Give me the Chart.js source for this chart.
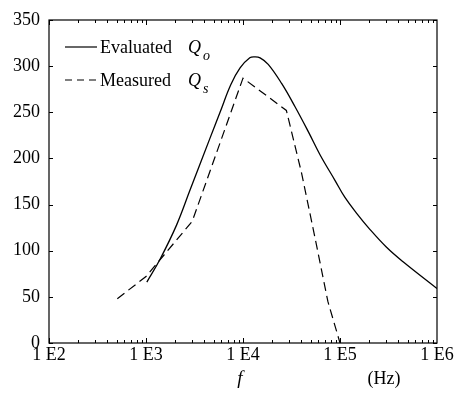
<!DOCTYPE html>
<html>
<head>
<meta charset="utf-8">
<script src="https://cdn.jsdelivr.net/npm/chart.js@4"></script>
<style>
  html, body { margin: 0; padding: 0; background: #fff; }
  #wrap { width: 455px; height: 400px; }
</style>
</head>
<body>
<div id="wrap"><canvas id="chart" width="455" height="400"></canvas></div>
<script>
// evaluated Q_o (solid)
const evalFreq = [1020, 1400, 2070, 2850, 4570, 5800, 7500, 9330, 11750, 13300, 15000, 18200, 25100, 34400, 47100, 62200, 89000, 112000, 150000, 200000, 300000, 447000, 1000000];
const evalQ    = [66,   91,   128,  166,  222,  250,  280,  298,  309,   310,   309,   302,   281,   256,   229,   204,   176,   158,    140,    124,    104,    88,     59];

// measured Q_s (dashed)
const measFreq = [506, 1000, 3000, 10000, 28000, 40000, 55000, 75000, 100000];
const measQ    = [48,  72,   132,  287,   252,   185,   115,   45,    0];

const xTickVals = [1e2, 1e3, 1e4, 1e5, 1e6];
const xTickLabels = ['1 E2', '1 E3', '1 E4', '1 E5', '1 E6'];
const yTickVals = [0, 50, 100, 150, 200, 250, 300, 350];

const serif = '"Liberation Serif", "Times New Roman", serif';

function pts(xs, ys) {
  return xs.map((x, i) => ({x: x, y: ys[i]}));
}

// frame, inner ticks, legend and axis texts
const decor = {
  id: 'decor',
  afterDraw(chart) {
    const ctx = chart.ctx;
    const a = chart.chartArea;
    const xs = chart.scales.x, ys = chart.scales.y;
    ctx.save();
    ctx.strokeStyle = '#000';
    ctx.lineWidth = 1.2;
    ctx.strokeRect(a.left, a.top, a.right - a.left, a.bottom - a.top);

    ctx.lineWidth = 1;
    ctx.beginPath();
    for (let d = 2; d < 6; d++) {
      for (let m = 1; m <= 9; m++) {
        const px = Math.round(xs.getPixelForValue(m * Math.pow(10, d))) + 0.5;
        const len = m === 1 ? 5 : 3;
        ctx.moveTo(px, a.bottom); ctx.lineTo(px, a.bottom - len);
        ctx.moveTo(px, a.top); ctx.lineTo(px, a.top + len);
      }
    }
    yTickVals.forEach(v => {
      const py = Math.round(ys.getPixelForValue(v)) + 0.5;
      ctx.moveTo(a.left, py); ctx.lineTo(a.left + 4, py);
      ctx.moveTo(a.right, py); ctx.lineTo(a.right - 4, py);
    });
    ctx.stroke();

    // legend
    const rows = [
      {label: 'Evaluated', sub: 'o', dash: [], y: 47},
      {label: 'Measured', sub: 's', dash: [7, 5], y: 80}
    ];
    ctx.fillStyle = '#000';
    ctx.textBaseline = 'alphabetic';
    rows.forEach(r => {
      ctx.setLineDash(r.dash);
      ctx.lineWidth = 1.2;
      ctx.beginPath();
      ctx.moveTo(65, r.y); ctx.lineTo(97, r.y);
      ctx.stroke();
      ctx.setLineDash([]);
      ctx.font = '18px ' + serif;
      ctx.textAlign = 'left';
      ctx.fillText(r.label, 100, r.y + 6);
      ctx.font = 'italic 18px ' + serif;
      ctx.fillText('Q', 188, r.y + 6);
      ctx.font = 'italic 14px ' + serif;
      ctx.fillText(r.sub, 203, r.y + 13);
    });

    // axis texts
    ctx.font = 'italic 19px ' + serif;
    ctx.textAlign = 'center';
    ctx.fillText('f', 240, 384);
    ctx.font = '18px ' + serif;
    ctx.fillText('(Hz)', 384, 384);
    ctx.restore();
  }
};

new Chart(document.getElementById('chart'), {
  type: 'line',
  data: {
    datasets: [
      {
        label: 'Evaluated Qo',
        data: pts(evalFreq, evalQ),
        borderColor: '#000',
        borderWidth: 1.3,
        pointRadius: 0,
        tension: 0.4,
        fill: false
      },
      {
        label: 'Measured Qs',
        data: pts(measFreq, measQ),
        borderColor: '#000',
        borderWidth: 1.2,
        borderDash: [9, 5],
        pointRadius: 0,
        tension: 0,
        fill: false
      }
    ]
  },
  options: {
    responsive: false,
    animation: false,
    layout: { padding: { top: 20, right: 18, left: 0, bottom: 0 } },
    plugins: { legend: { display: false }, tooltip: { enabled: false } },
    scales: {
      x: {
        type: 'logarithmic',
        min: 100,
        max: 1e6,
        afterBuildTicks: s => { s.ticks = xTickVals.map(v => ({value: v})); },
        afterFit: s => { s.height = 57; },
        grid: { display: false, drawTicks: false },
        border: { display: false },
        ticks: {
          color: '#000',
          padding: 1,
          maxRotation: 0,
          autoSkip: false,
          font: { family: serif, size: 18 },
          callback: (v) => xTickLabels[xTickVals.indexOf(v)]
        }
      },
      y: {
        min: 0,
        max: 350,
        afterBuildTicks: s => { s.ticks = yTickVals.map(v => ({value: v})); },
        afterFit: s => { s.width = 49; },
        grid: { display: false, drawTicks: false },
        border: { display: false },
        ticks: {
          color: '#000',
          padding: 9,
          font: { family: serif, size: 18 }
        }
      }
    }
  },
  plugins: [decor]
});
</script>
</body>
</html>
